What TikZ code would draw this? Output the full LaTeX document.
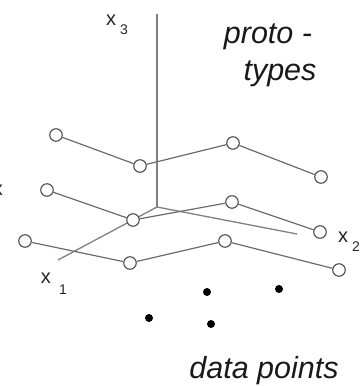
\documentclass[tikz,border=0pt]{standalone}
\usepackage{fontspec}
\setmainfont{Liberation Sans}
\begin{document}
\begin{tikzpicture}[x=1pt,y=-1pt,
  proto/.style={circle,draw=black!70,fill=white,line width=1.1pt,minimum size=12.5pt,inner sep=0pt},
  datum/.style={circle,fill=black,minimum size=8pt,inner sep=0pt},
  link/.style={draw=black!58,line width=1.2pt},
  axis/.style={draw=black!50,line width=1.3pt},
  axlab/.style={inner sep=0pt,text=black!85,font=\fontsize{20}{20}\selectfont},
  sublab/.style={inner sep=0pt,text=black!85,font=\fontsize{14}{14}\selectfont},
  bigtext/.style={inner sep=0pt,anchor=base,text=black!90,font=\fontsize{30.5}{30.5}\selectfont\itshape}]
\useasboundingbox (0,0) rectangle (361,386);
% axes
\coordinate (O) at (157,207);
\coordinate (X3) at (157,14);
\coordinate (X1) at (58,260);
\coordinate (X2) at (297,234);
\draw[axis] (O) -- (X3);
\draw[axis] (O) -- (X1);
\draw[axis] (O) -- (X2);
% prototypes
\node[proto] (a1) at (56,135) {};
\node[proto] (a2) at (140,166) {};
\node[proto] (a3) at (233,143) {};
\node[proto] (a4) at (321,177) {};
\node[proto] (b1) at (47,190) {};
\node[proto] (b2) at (133,220) {};
\node[proto] (b3) at (232,202) {};
\node[proto] (b4) at (320,232) {};
\node[proto] (c1) at (25,241) {};
\node[proto] (c2) at (130,263) {};
\node[proto] (c3) at (225,241) {};
\node[proto] (c4) at (339,270) {};
\draw[link] (a1) -- (a2) -- (a3) -- (a4);
\draw[link] (b1) -- (b2) -- (b3) -- (b4);
\draw[link] (c1) -- (c2) -- (c3) -- (c4);
% data points
\node[datum] (d1) at (207,292) {};
\node[datum] (d2) at (279,289) {};
\node[datum] (d3) at (149,318) {};
\node[datum] (d4) at (211,324) {};
% labels
\node[axlab] (l3) at (111,20) {x};
\node[sublab] (s3) at (124,30) {3};
\node[axlab] (l1) at (46,278) {x};
\node[sublab] (s1) at (63,290) {1};
\node[axlab] (l2) at (343,237) {x};
\node[sublab] (s2) at (356,247) {2};
\node[axlab] (lcut) at (-2,190) {x};
\node[bigtext] (pt1) at (268,43) {proto -};
\node[bigtext] (pt2) at (280,80) {types};
\node[bigtext] (dp) at (264,378) {data points};
\end{tikzpicture}
\end{document}
